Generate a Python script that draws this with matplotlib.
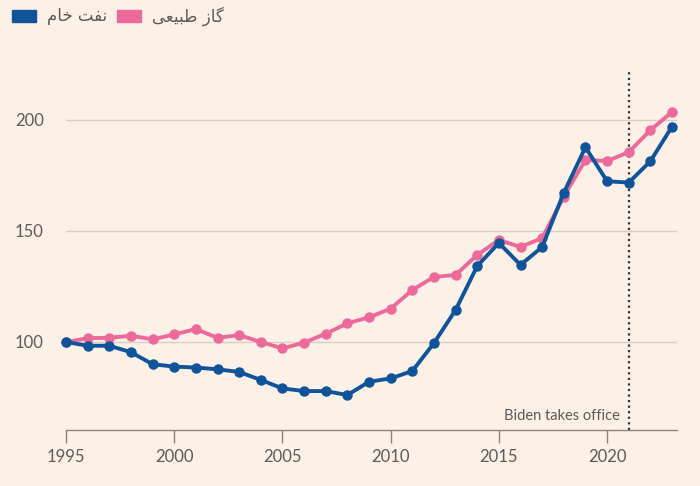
import matplotlib.pyplot as plt
from matplotlib.patches import Rectangle

# Data (index, 1995 = 100)
years = list(range(1995, 2024))
crude_oil = [100, 98.3, 98.3, 95.4, 90.0, 88.9, 88.5, 87.7, 86.5, 82.9,
             79.1, 77.9, 77.9, 76.1, 82.1, 83.6, 86.9, 99.5, 114.4, 134.2,
             144.6, 134.7, 142.8, 167.2, 187.7, 172.4, 171.8, 181.4, 197.0]
natural_gas = [100, 101.7, 101.9, 102.8, 101.2, 103.4, 105.8, 101.9, 103.1, 100.0,
               97.1, 99.7, 103.7, 108.4, 111.1, 115.0, 123.4, 129.3, 130.2, 139.2,
               145.9, 142.8, 146.8, 165.5, 182.0, 181.5, 185.5, 195.4, 203.6]
y_ticks = [100, 150, 200]
x_ticks = [1995, 2000, 2005, 2010, 2015, 2020]

# Persian labels, pre-shaped (presentation forms, visual order)
label_oil = "\uFEE1\uFE8E\uFEA7 \uFE96\uFED4\uFEE7"              # نفت خام
label_gas = "\uFBFD\uFECC\uFBFF\uFE92\uFEC3 \uFEAF\uFE8E\uFB94"  # گاز طبیعی

BG = '#fdf0e6'
BLUE = '#0f5499'
PINK = '#ec6a9a'
TXT = '#5f5955'

plt.rcParams['font.family'] = ['Lato', 'DejaVu Sans']

fig = plt.figure(figsize=(7, 4.86), dpi=100, facecolor=BG)
ax = fig.add_axes([66 / 700, 1 - 430 / 486, (677 - 66) / 700, (430 - 70) / 486])
ax.set_facecolor(BG)

ax.set_xlim(1995, 2023.23)
ax.set_ylim(60.36, 222.5)

for v in y_ticks:
    ax.axhline(v, color='#d8cec5', lw=1, zorder=1)

ax.plot(years, natural_gas, color=PINK, lw=2.8, marker='o', ms=6.5,
        clip_on=False, zorder=3)
ax.plot(years, crude_oil, color=BLUE, lw=2.8, marker='o', ms=6.5,
        clip_on=False, zorder=4)

ax.axvline(2021, color='#333333', lw=1.6, ls=(0, (1, 1.5)), zorder=2)
ax.text(2020.6, 63.5, 'Biden takes office', ha='right', va='bottom',
        fontsize=10.5, color=TXT)

for s in ['top', 'right', 'left']:
    ax.spines[s].set_visible(False)
ax.spines['bottom'].set_color('#8a837e')
ax.spines['bottom'].set_linewidth(1)

ax.set_yticks(y_ticks)
ax.set_xticks(x_ticks)
ax.tick_params(axis='y', length=0, pad=16, labelsize=12, labelcolor=TXT)
ax.tick_params(axis='x', length=9, width=1, color='#8a837e', pad=5,
               labelsize=12, labelcolor=TXT)

# legend at top left
fig.patches.append(Rectangle((12 / 700, 1 - 22 / 486), 24 / 700, 12 / 486,
                             transform=fig.transFigure, color=BLUE))
fig.patches.append(Rectangle((117 / 700, 1 - 22 / 486), 24 / 700, 12 / 486,
                             transform=fig.transFigure, color=PINK))
fig.text(47 / 700, 1 - 16 / 486, label_oil, ha='left', va='center',
         fontsize=12, color=TXT, family=['DejaVu Sans'])
fig.text(152 / 700, 1 - 16 / 486, label_gas, ha='left', va='center',
         fontsize=12, color=TXT, family=['DejaVu Sans'])

fig.savefig('out.png', dpi=100, facecolor=BG)
